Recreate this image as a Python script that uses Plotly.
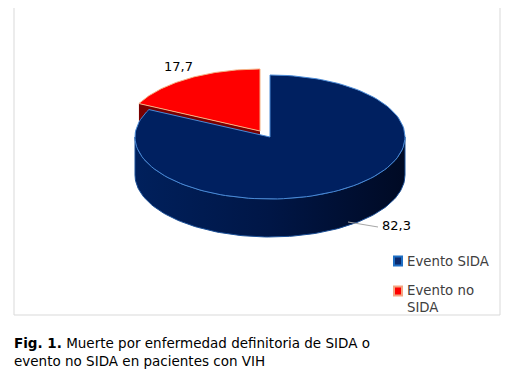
import numpy as np
import plotly.graph_objects as go

# ---- data ----
categories = ["Evento no SIDA", "Evento SIDA"]
values = [17.7, 82.3]
value_labels = ["17,7", "82,3"]
caption_bold = "Fig. 1."
caption_text = "Muerte por enfermedad definitoria de SIDA o<br>evento no SIDA en pacientes con VIH"
legend_labels = ["Evento SIDA", "Evento no<br>SIDA"]

# ---- style / geometry (page pixel coordinates) ----
W, H = 510, 372
PAGE_MARGIN = 8  # default body margin of the html page
CX, CY, RX, RY, DEPTH = 270, 137, 135, 62, 38
EXPLODE = (-10, -6)
FONT = "DejaVu Sans, Verdana, sans-serif"

top_colors = {"Evento SIDA": "#002060", "Evento no SIDA": "#ff0000"}
edge_colors = {"Evento SIDA": "#4a8ad6", "Evento no SIDA": "#f4b183"}
radial_colors = {"Evento SIDA": "#001540", "Evento no SIDA": "#7a0000"}

total = sum(values)
angles = []
a = 90.0
for c, v in zip(categories, values):
    span = 360.0 * v / total
    angles.append((c, a, a + span))
    a += span


def pt(theta, dx=0, dy=0, down=0):
    t = np.radians(theta)
    return CX + dx + RX * np.cos(t), CY + dy - RY * np.sin(t) + down


def arc(t0, t1, dx=0, dy=0, down=0, n=120):
    ts = np.linspace(t0, t1, n)
    xs, ys = pt(ts, dx, dy, down)
    return list(xs), list(ys)


fig = go.Figure()

for c, t0, t1 in angles:
    dx, dy = EXPLODE if c == "Evento no SIDA" else (0, 0)
    if c == "Evento no SIDA":
        ox, oy = pt(t1, dx, dy)
        xs = [CX + dx, ox, ox, CX + dx, CX + dx]
        ys = [CY + dy, oy, oy + DEPTH, CY + dy + DEPTH, CY + dy]
        fig.add_trace(go.Scatter(x=xs, y=ys, mode="lines", fill="toself",
                                 fillcolor=radial_colors[c], line=dict(width=0),
                                 hoverinfo="skip", showlegend=False))

for c, t0, t1 in angles:
    if c != "Evento SIDA":
        continue
    s0, s1 = max(t0, 180), min(t1, 360)
    xa, ya = arc(s0, s1)
    xb, yb = arc(s1, s0, down=DEPTH)
    fig.add_trace(go.Scatter(x=xa + xb + [xa[0]], y=ya + yb + [ya[0]], mode="lines",
                             fill="toself",
                             fillgradient=dict(type="horizontal",
                                               colorscale=[[0, "#00205c"], [0.5, "#001646"], [1, "#000a24"]]),
                             line=dict(width=1, color="#1b4f96"),
                             hoverinfo="skip", showlegend=False))

for c, t0, t1 in angles:
    dx, dy = EXPLODE if c == "Evento no SIDA" else (0, 0)
    xa, ya = arc(t0, t1, dx, dy)
    xs = [CX + dx] + xa + [CX + dx]
    ys = [CY + dy] + ya + [CY + dy]
    fig.add_trace(go.Scatter(x=xs, y=ys, mode="lines", fill="toself",
                             fillcolor=top_colors[c],
                             line=dict(width=1, color=edge_colors[c]),
                             name=c, hoverinfo="skip", showlegend=False))

# frame
fig.add_shape(type="rect", x0=14, y0=6, x1=500, y1=315,
              line=dict(color="#d9d9d9", width=1), fillcolor="rgba(0,0,0,0)")

# data labels
fig.add_annotation(x=178, y=66, text=value_labels[0], showarrow=False,
                   font=dict(family=FONT, size=13, color="#000000"))
fig.add_shape(type="line", x0=348, y0=222, x1=378, y1=227,
              line=dict(color="#a6a6a6", width=1))
fig.add_annotation(x=396, y=225, text=value_labels[1], showarrow=False,
                   font=dict(family=FONT, size=13, color="#000000"))

# legend
leg_items = [("Evento SIDA", 261, 261), ("Evento no SIDA", 291, 299)]
marker_fill = {"Evento SIDA": "#0a2a6e", "Evento no SIDA": "#ff0000"}
marker_edge = {"Evento SIDA": "#1f6fc4", "Evento no SIDA": "#f4a582"}
for (c, ym, yt), lab in zip(leg_items, legend_labels):
    fig.add_shape(type="rect", x0=394, y0=ym - 4.5, x1=402, y1=ym + 4.5,
                  line=dict(color=marker_edge[c], width=2), fillcolor=marker_fill[c])
    fig.add_annotation(x=405, y=yt, text=lab, showarrow=False, xanchor="left",
                       align="left",
                       font=dict(family=FONT, size=13.3, color="#404040"))

# caption
fig.add_annotation(x=12, y=352, xanchor="left", yanchor="middle", align="left",
                   text="<b>" + caption_bold + "</b> " + caption_text,
                   showarrow=False,
                   font=dict(family=FONT, size=13.5, color="#000000"))

fig.update_layout(
    width=W - PAGE_MARGIN, height=H - PAGE_MARGIN, margin=dict(l=0, r=0, t=0, b=0),
    paper_bgcolor="white", plot_bgcolor="white",
    xaxis=dict(range=[PAGE_MARGIN, W], visible=False, fixedrange=True),
    yaxis=dict(range=[H, PAGE_MARGIN], visible=False, fixedrange=True),
    showlegend=False,
)

fig.write_html("out.html")
